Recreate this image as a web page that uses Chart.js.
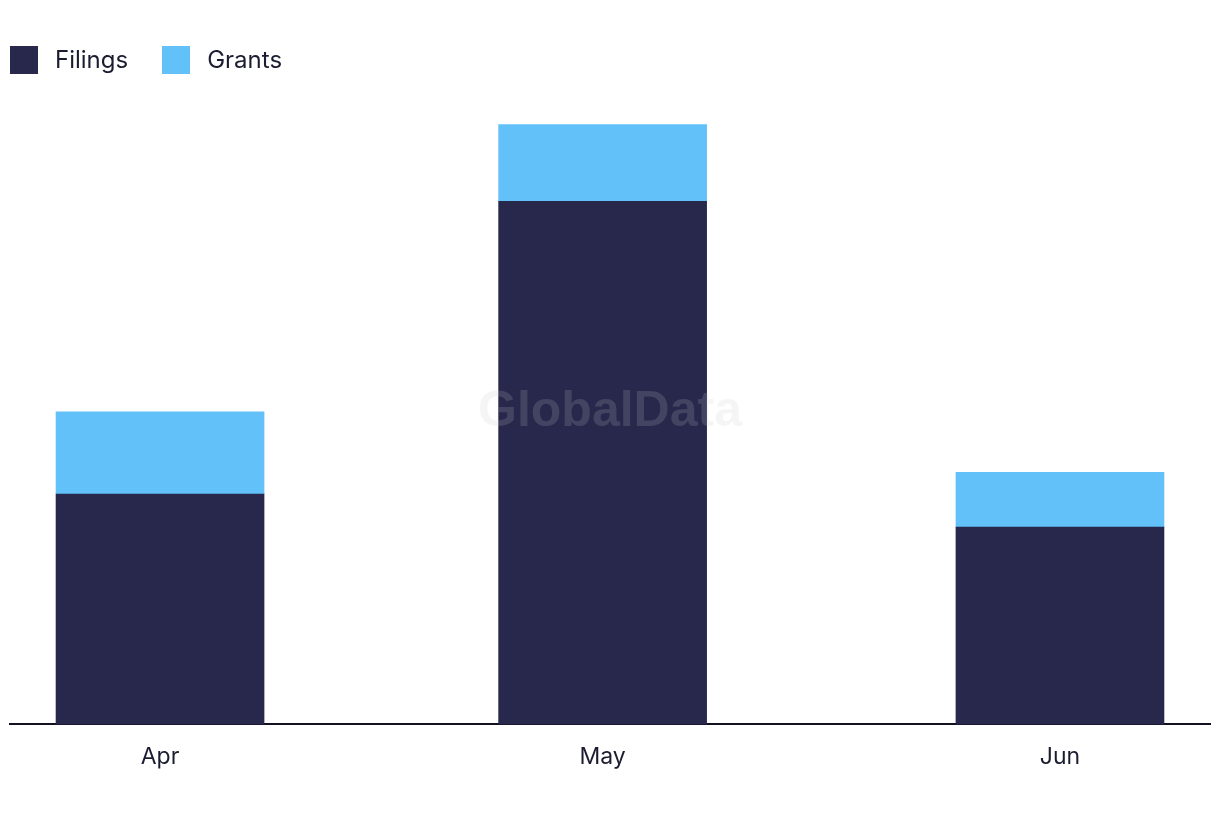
<!DOCTYPE html>
<html>
<head>
<meta charset="utf-8">
<script src="https://cdn.jsdelivr.net/npm/chart.js@4"></script>
<style>
  html, body { margin: 0; padding: 0; background: #fff; }
  #wrap { position: relative; width: 1220px; height: 822px; font-family: Inter, "Noto Sans", sans-serif; color: #1b1c30; }
  #legend { position: absolute; left: 10px; top: 45px; display: flex; align-items: center; font-size: 24px; }
  .item { display: flex; align-items: center; margin-right: 34px; }
  .box { width: 28px; height: 28px; margin-right: 17px; }
  #chart { position: absolute; left: 0; top: 0; }
</style>
</head>
<body>
<div id="wrap">
  <canvas id="chart" width="1220" height="822"></canvas>
  <div id="legend"></div>
</div>
<script>
// datos
const months = ['Apr', 'May', 'Jun'];
const monthStarts = ['2024-04-01', '2024-05-01', '2024-06-01'];
const filings = [42, 95.4, 36];
const grants = [15, 14, 10];

const seriesNames = ['Filings', 'Grants'];
const seriesColors = ['#27284b', '#62c1f9'];

// días desde el primer mes (eje lineal como escala de tiempo)
const dayMs = 24 * 3600 * 1000;
const t0 = Date.parse(monthStarts[0]);
const days = monthStarts.map(d => (Date.parse(d) - t0) / dayMs);

// leyenda en HTML
const legend = document.getElementById('legend');
seriesNames.forEach((name, i) => {
  const item = document.createElement('div');
  item.className = 'item';
  item.innerHTML = '<span class="box" style="background:' + seriesColors[i] + '"></span>' + name;
  legend.appendChild(item);
});

// marca de agua
const watermark = {
  id: 'watermark',
  afterDatasetsDraw(chart) {
    const { ctx } = chart;
    ctx.save();
    ctx.font = 'bold 50px "Liberation Sans", Arial, sans-serif';
    ctx.fillStyle = 'rgba(200,200,205,0.18)';
    ctx.textAlign = 'center';
    ctx.textBaseline = 'middle';
    ctx.fillText('GlobalData', 610, 412);
    ctx.restore();
  }
};

const pad = 10.17;

new Chart(document.getElementById('chart'), {
  type: 'bar',
  data: {
    datasets: [
      {
        label: seriesNames[0],
        data: days.map((d, i) => ({ x: d, y: filings[i] })),
        backgroundColor: seriesColors[0],
        barThickness: 208
      },
      {
        label: seriesNames[1],
        data: days.map((d, i) => ({ x: d, y: grants[i] })),
        backgroundColor: seriesColors[1],
        barThickness: 208
      }
    ]
  },
  options: {
    responsive: false,
    animation: false,
    layout: { padding: { left: 10, right: 10, top: 100, bottom: 32 } },
    plugins: {
      legend: { display: false },
      tooltip: { enabled: false }
    },
    scales: {
      x: {
        type: 'linear',
        stacked: true,
        offset: false,
        min: days[0] - pad,
        max: days[days.length - 1] + pad,
        grid: { display: false, drawTicks: false },
        border: { display: true, color: '#111122', width: 2 },
        afterBuildTicks: axis => {
          axis.ticks = days.map(v => ({ value: v }));
        },
        ticks: {
          padding: 19,
          autoSkip: false,
          maxRotation: 0,
          color: '#1b1c30',
          font: { family: 'Inter', size: 23 },
          callback: (v) => months[days.indexOf(v)]
        }
      },
      y: {
        stacked: true,
        display: false,
        min: 0,
        max: 113.9
      }
    }
  },
  plugins: [watermark]
});
</script>
</body>
</html>
